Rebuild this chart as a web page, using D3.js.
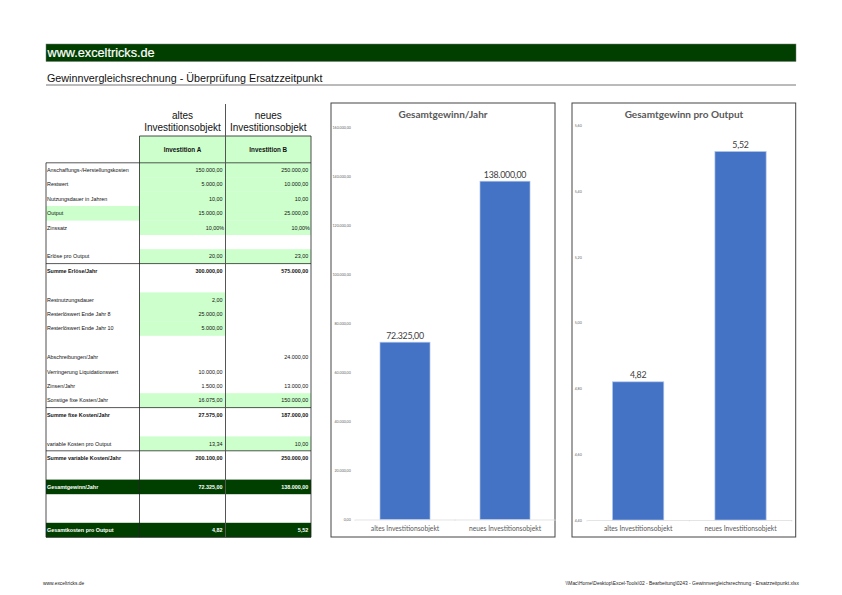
<!DOCTYPE html>
<html lang="de">
<head>
    <meta charset="UTF-8">
    <title>Gewinnvergleichsrechnung</title>
    <script src="https://d3js.org/d3.v7.min.js"></script>
    <style>
        html, body { margin: 0; padding: 0; background: #fff; }
        svg { display: block; }
        text { font-family: "Liberation Sans", Arial, sans-serif; }
        .chart text { font-family: Lato, "Open Sans", sans-serif; }
    </style>
</head>
<body>
<div id="page"></div>

<script>
    // table content, one entry per spreadsheet row
    const rowLabels = ['Anschaffungs-/Herstellungskosten', 'Restwert', 'Nutzungsdauer in Jahren', 'Output', 'Zinssatz', '',
        'Erlöse pro Output', 'Summe Erlöse/Jahr', '', 'Restnutzungsdauer', 'Resterlöswert Ende Jahr 8', 'Resterlöswert Ende Jahr 10', '',
        'Abschreibungen/Jahr', 'Verringerung Liquidationswert', 'Zinsen/Jahr', 'Sonstige fixe Kosten/Jahr', 'Summe fixe Kosten/Jahr', '',
        'variable Kosten pro Output', 'Summe variable Kosten/Jahr', '', 'Gesamtgewinn/Jahr', '', '', 'Gesamtkosten pro Output'];
    const valuesA = ['150.000,00', '5.000,00', '10,00', '15.000,00', '10,00%', '',
        '20,00', '300.000,00', '', '2,00', '25.000,00', '5.000,00', '',
        '', '10.000,00', '1.500,00', '16.075,00', '27.575,00', '',
        '13,34', '200.100,00', '', '72.325,00', '', '', '4,82'];
    const valuesB = ['250.000,00', '10.000,00', '10,00', '25.000,00', '10,00%', '',
        '23,00', '575.000,00', '', '', '', '', '',
        '24.000,00', '', '13.000,00', '150.000,00', '187.000,00', '',
        '10,00', '250.000,00', '', '138.000,00', '', '', '5,52'];
    const greenRowsA = [0, 1, 2, 3, 4, 6, 9, 10, 11, 16, 19];
    const greenRowsB = [0, 1, 2, 3, 4, 6, 16, 19];
    const greenLabelRows = [3];
    const boldRows = [7, 17, 20];
    const darkRows = [22, 25];
    const ruledRows = [0, 7, 17, 20];

    // chart content
    const categories = ['altes Investitionsobjekt', 'neues Investitionsobjekt'];
    const profitPerYear = [72325, 138000];
    const profitPerYearTicks = [0, 20000, 40000, 60000, 80000, 100000, 120000, 140000, 160000];
    const profitPerOutput = [4.82, 5.52];
    const profitPerOutputTicks = [4.4, 4.6, 4.8, 5.0, 5.2, 5.4, 5.6];

    const DARK_GREEN = '#003f00';
    const LIGHT_GREEN = '#ccffcc';

    const de = d3.formatLocale({decimal: ',', thousands: '.', grouping: [3], currency: ['', ' €']});
    const fmt = de.format(',.2f');

    const svg = d3.select('#page').append('svg')
        .attr('width', 842)
        .attr('height', 595);

    // page header
    svg.append('rect')
        .attr('x', 46).attr('y', 44)
        .attr('width', 750).attr('height', 17.5)
        .attr('fill', DARK_GREEN)
        .attr('stroke', '#777').attr('stroke-width', 0.5);
    svg.append('text')
        .attr('x', 47.5).attr('y', 57)
        .attr('fill', '#fff')
        .attr('stroke', '#fff').attr('stroke-width', 0.2)
        .style('font-size', '12.7px')
        .text('www.exceltricks.de');
    svg.append('text')
        .attr('x', 47).attr('y', 82)
        .attr('fill', '#111')
        .style('font-size', '10.75px')
        .text('Gewinnvergleichsrechnung - Überprüfung Ersatzzeitpunkt');
    svg.append('line')
        .attr('x1', 46).attr('x2', 796)
        .attr('y1', 85).attr('y2', 85)
        .attr('stroke', '#777').attr('stroke-width', 1);

    // table
    const colX = [46, 139.5, 225.5, 311];
    const rowY = d3.scaleLinear().domain([0, 26]).range([162.8, 537.2]);
    const table = svg.append('g').attr('class', 'table');

    function fillCells(rows, x0, x1, color) {
        table.append('g').selectAll('rect')
            .data(rows)
            .enter()
            .append('rect')
            .attr('x', x0)
            .attr('y', function (d) { return rowY(d); })
            .attr('width', x1 - x0)
            .attr('height', rowY(1) - rowY(0) + 0.2)
            .attr('fill', color);
    }

    // green header block above the rows
    table.append('rect')
        .attr('x', colX[1]).attr('y', 136)
        .attr('width', colX[3] - colX[1]).attr('height', rowY(0) - 136)
        .attr('fill', LIGHT_GREEN);
    fillCells(greenRowsA, colX[1], colX[2], LIGHT_GREEN);
    fillCells(greenRowsB, colX[2], colX[3], LIGHT_GREEN);
    fillCells(greenLabelRows, colX[0], colX[1], LIGHT_GREEN);
    fillCells(darkRows, colX[0], colX[3], DARK_GREEN);

    table.append('g').selectAll('line')
        .data(ruledRows)
        .enter()
        .append('line')
        .attr('x1', colX[0]).attr('x2', colX[3])
        .attr('y1', function (d) { return rowY(d); })
        .attr('y2', function (d) { return rowY(d); })
        .attr('stroke', '#111').attr('stroke-width', 0.7);

    // frame and column rules
    const frame = table.append('g').attr('fill', 'none').attr('stroke', '#222').attr('stroke-width', 0.8);
    frame.append('path').attr('d', 'M' + colX[0] + ',' + rowY(0) + 'V' + rowY(26) + 'H' + colX[3] + 'V136H' + colX[1] + 'V' + rowY(26));
    frame.append('path').attr('d', 'M' + colX[2] + ',104V' + rowY(26)).attr('stroke', '#555').attr('stroke-width', 1);

    const headerCols = [(colX[1] + colX[2]) / 2, (colX[2] + colX[3]) / 2];
    [['altes', 'Investitionsobjekt'], ['neues', 'Investitionsobjekt']].forEach(function (lines, i) {
        lines.forEach(function (line, j) {
            table.append('text')
                .attr('x', headerCols[i]).attr('y', 118.5 + j * 12.3)
                .attr('text-anchor', 'middle')
                .attr('fill', '#111')
                .style('font-size', '10px')
                .text(line);
        });
        table.append('text')
            .attr('x', headerCols[i]).attr('y', 152)
            .attr('text-anchor', 'middle')
            .attr('fill', '#111')
            .style('font-size', '6.3px')
            .style('font-weight', 'bold')
            .text(i === 0 ? 'Investition A' : 'Investition B');
    });

    function rowText(values, x, anchor) {
        table.append('g').selectAll('text')
            .data(values)
            .enter()
            .append('text')
            .attr('x', function (d) { return d.slice(-1) === '%' ? x + 1.5 : x; })
            .attr('y', function (d, i) { return rowY(i) + 9.1; })
            .attr('text-anchor', anchor)
            .attr('fill', function (d, i) { return darkRows.includes(i) ? '#fff' : '#111'; })
            .style('font-size', '5.4px')
            .style('font-weight', function (d, i) { return boldRows.includes(i) || darkRows.includes(i) ? 'bold' : 'normal'; })
            .text(function (d) { return d; });
    }
    rowText(rowLabels, 47, 'start');
    rowText(valuesA, 222.6, 'end');
    rowText(valuesB, 308.2, 'end');

    // footer
    svg.append('text')
        .attr('x', 43).attr('y', 584.5)
        .attr('fill', '#222').style('font-size', '4.9px')
        .text('www.exceltricks.de');
    svg.append('text')
        .attr('x', 799).attr('y', 584.5)
        .attr('text-anchor', 'end')
        .attr('fill', '#222').style('font-size', '4.92px')
        .text('\\\\Mac\\Home\\Desktop\\Excel-Tools\\02 - Bearbeitung\\0243 - Gewinnvergleichsrechnung - Ersatzzeitpunkt.xlsx');

    function draw_bar_chart(opts) {
        const g = svg.append('g').attr('class', 'chart');

        g.append('rect')
            .attr('x', opts.left).attr('y', 103)
            .attr('width', opts.right - opts.left).attr('height', 434)
            .attr('fill', '#fff')
            .attr('stroke', '#444').attr('stroke-width', 1);

        g.append('text')
            .attr('x', opts.titleX).attr('y', 118)
            .attr('text-anchor', 'middle')
            .attr('fill', '#595959')
            .style('font-size', '10px')
            .style('font-weight', 'bold')
            .text(opts.title);

        const x = d3.scaleBand()
            .domain(categories)
            .range([opts.plotLeft, opts.plotRight])
            .paddingInner(0.5)
            .paddingOuter(0.25);
        const y = d3.scaleLinear()
            .domain(d3.extent(opts.ticks))
            .range([opts.plotBottom, opts.plotTop]);

        // value axis, tiny labels and no line
        const yAxis = g.append('g')
            .attr('transform', 'translate(' + opts.labelX + ',0)')
            .call(d3.axisLeft(y).tickValues(opts.ticks).tickSize(0).tickPadding(0).tickFormat(fmt));
        yAxis.select('.domain').remove();
        yAxis.selectAll('text')
            .attr('fill', '#666')
            .style('font-size', '3.6px');

        g.selectAll('.bar')
            .data(opts.values)
            .enter()
            .append('rect')
            .attr('class', 'bar')
            .attr('x', function (d, i) { return x(categories[i]); })
            .attr('y', function (d) { return y(d); })
            .attr('width', x.bandwidth())
            .attr('height', function (d) { return opts.plotBottom - y(d); })
            .attr('fill', '#4472c4')
            .attr('stroke', '#a9c1ea')
            .attr('stroke-width', 0.7);

        g.selectAll('.value')
            .data(opts.values)
            .enter()
            .append('text')
            .attr('class', 'value')
            .attr('x', function (d, i) { return x(categories[i]) + x.bandwidth() / 2; })
            .attr('y', function (d) { return y(d) - 3.5; })
            .attr('text-anchor', 'middle')
            .attr('fill', '#404040')
            .style('font-size', '8.8px')
            .style('letter-spacing', '-0.25px')
            .text(function (d) { return fmt(d); });

        // category axis, ticks sit on the band edges
        const xAxis = g.append('g')
            .attr('transform', 'translate(0,' + opts.plotBottom + ')')
            .call(d3.axisBottom(x).tickSize(0).tickPadding(6.5));
        xAxis.select('.domain').attr('stroke', '#d9d9d9').attr('stroke-width', 0.7);
        xAxis.selectAll('text')
            .attr('fill', '#595959')
            .style('font-size', '6.75px');
        xAxis.selectAll('.edge')
            .data([0, 1, 2])
            .enter()
            .append('line')
            .attr('class', 'edge')
            .attr('x1', function (d) { return opts.plotLeft + d * x.step(); })
            .attr('x2', function (d) { return opts.plotLeft + d * x.step(); })
            .attr('y1', 0).attr('y2', 1.5)
            .attr('stroke', '#d9d9d9').attr('stroke-width', 0.6);
    }

    draw_bar_chart({
        title: 'Gesamtgewinn/Jahr', titleX: 443, values: profitPerYear, ticks: profitPerYearTicks,
        left: 331, right: 555, plotLeft: 355, plotRight: 555, plotTop: 127.3, plotBottom: 519.5, labelX: 350.8
    });
    draw_bar_chart({
        title: 'Gesamtgewinn pro Output', titleX: 684, values: profitPerOutput, ticks: profitPerOutputTicks,
        left: 572, right: 795.7, plotLeft: 587, plotRight: 791.7, plotTop: 125.3, plotBottom: 520, labelX: 581.8
    });
</script>
</body>
</html>
